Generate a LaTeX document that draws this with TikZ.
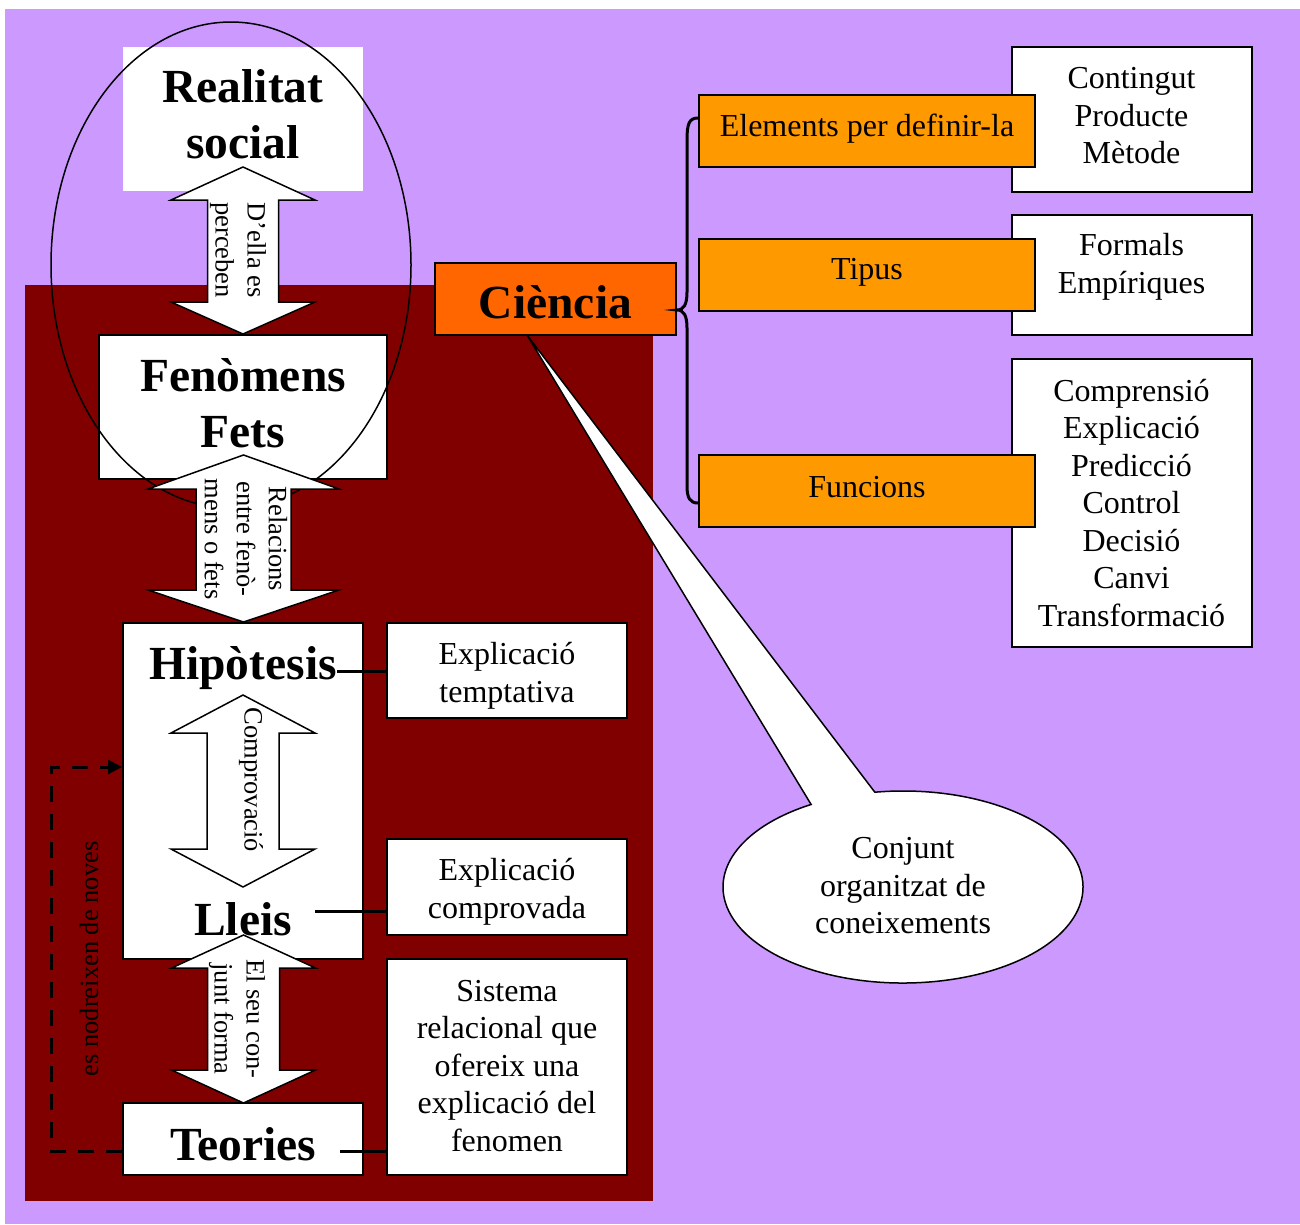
\documentclass[tikz,border=0pt]{standalone}
\usepackage{fontspec}
\setmainfont{Liberation Serif}
\usetikzlibrary{arrows.meta,calc}
\definecolor{lilac}{HTML}{CC99FF}
\definecolor{maroon}{HTML}{800000}
\definecolor{amber}{HTML}{FF9900}
\definecolor{tangerine}{HTML}{FF6600}

% vertical double-headed block arrow:
% centre x, top tip, top head base, bottom head base, bottom tip, head half width, shaft half width
\newcommand\blockdarrow[7]{%
  \draw[arrowbody] (#1,#2) -- (#1+#6,#3) -- (#1+#7,#3) -- (#1+#7,#4) -- (#1+#6,#4)
    -- (#1,#5) -- (#1-#6,#4) -- (#1-#7,#4) -- (#1-#7,#3) -- (#1-#6,#3) -- cycle;}

\tikzset{
  box/.style={draw=black, line width=2pt, fill=white, inner sep=0pt},
  body/.style={font=\fontsize{32}{37.5}\selectfont, align=center, inner sep=0pt},
  title/.style={font=\fontsize{47.5}{56}\selectfont\bfseries, align=center, inner sep=0pt},
  small/.style={font=\fontsize{26.5}{32}\selectfont, align=center, inner sep=0pt},
  arrowbody/.style={draw=black, line width=1.5pt, fill=white, line join=miter},
  conn/.style={line width=3pt},
  feedback/.style={line width=3pt, dash pattern=on 16pt off 12pt,
    -{Triangle[length=14pt,width=14pt]}},
  bracepath/.style={line width=3pt, line cap=round},
}

\begin{document}
\begin{tikzpicture}[x=1pt,y=-1pt]
\useasboundingbox (0,0) rectangle (1300,1224);
\fill[white] (0,0) rectangle (1300,1224);
\fill[lilac] (5,9) rectangle (1300,1224);
\fill[maroon] (25,285) rectangle (653,1201);

% speech bubble hanging from "Ciència"
\coordinate (ctip) at (527,335);
\filldraw[fill=white, draw=black, line width=1.5pt, line join=miter]
  (903,887) ++(261:180 and 96)
  arc[start angle=261, end angle=599.3, x radius=180, y radius=96]
  -- (ctip) -- cycle;
\node[body] (conjunt) at (903,886) {Conjunt\\organitzat de\\coneixements};

% left column
\node[box, draw=none, minimum width=240pt, minimum height=144pt] (realitat) at (243,119) {};
\node[title] (realitattxt) at (243,114) {Realitat\\social};
\blockdarrow{243}{167}{200}{302}{334}{72}{35.5}
\node[small, rotate=-90] (della) at (238,250) {D’ella es\\perceben};

\node[box, minimum width=288pt, minimum height=144pt] (fenomens) at (243,407) {};
\node[title] (fenomenstxt) at (243,403) {Fenòmens\\Fets};
\draw[line width=1.5pt] (231,265) ellipse[x radius=180, y radius=243];

\blockdarrow{243.5}{455}{489}{590}{622}{95.5}{47.5}
\node[small, rotate=-90] (relacions) at (246,539) {Relacions\\entre fenò-\\mens o fets};

\node[box, minimum width=240pt, minimum height=336pt] (hl) at (243,791) {};
\node[title] (hiptxt) at (243,668) {Hipòtesis};
\node[title] (lleistxt) at (243,919) {Lleis};
\blockdarrow{243}{695}{733}{849}{887}{72}{36}
\node[small, rotate=-90] (comprovacio) at (251,780) {Comprovació};

\blockdarrow{243.5}{935}{968}{1070}{1103}{72}{36}
\node[small, rotate=-90] (conjforma) at (237,1019) {El seu con-\\junt forma};

\node[box, minimum width=240pt, minimum height=72pt] (teories) at (243,1139) {};
\node[title] (teoriestxt) at (243,1144) {Teories};

\node[box, minimum width=240pt, minimum height=95pt] (expl1) at (507,670.5) {};
\node[body] (expl1txt) at (507,676) {Explicació\\temptativa};
\node[box, minimum width=240pt, minimum height=96pt] (expl2) at (507,887) {};
\node[body] (expl2txt) at (507,892) {Explicació\\comprovada};
\node[box, minimum width=240pt, minimum height=216pt] (sistema) at (507,1067) {};
\node[body] (sistematxt) at (507,1066)
  {Sistema\\relacional que\\ofereix una\\explicació del\\fenomen};

\coordinate (hipend) at (337,671);
\coordinate (lleisend) at (315,911);
\coordinate (teoend) at (340,1151);
\draw[conn] (hipend) -- (hipend -| expl1.west);
\draw[conn] (lleisend) -- (lleisend -| expl2.west);
\draw[conn] (teoend) -- (teoend -| sistema.west);

% feedback loop from the theories back to the hypotheses
\coordinate (fbcorner) at (51,767);
\draw[feedback] (teoend -| teories.west) -| (fbcorner) -- (fbcorner -| hl.west);
\node[small, rotate=90] (nodreixen) at (89,959) {es nodreixen de noves};

% right part
\node[box, minimum width=240pt, minimum height=145pt] (contA) at (1131.5,119.5) {};
\node[body] (contAtxt) at (1131.5,116) {Contingut\\Producte\\Mètode};
\node[box, minimum width=240pt, minimum height=120pt] (contB) at (1131.5,275) {};
\node[body] (contBtxt) at (1131.5,267) {Formals\\Empíriques};
\node[box, minimum width=240pt, minimum height=288pt] (contC) at (1131.5,503) {};
\node[body] (contCtxt) at (1131.5,503)
  {Comprensió\\Explicació\\Predicció\\Control\\Decisió\\Canvi\\Transformació};

\node[box, fill=amber, minimum width=336pt, minimum height=72pt] (elements) at (867,131) {};
\node[body] (elementstxt) at (867,129) {Elements per definir-la};
\node[box, fill=amber, minimum width=336pt, minimum height=72pt] (tipus) at (867,275) {};
\node[body] (tipustxt) at (867,272) {Tipus};
\node[box, fill=amber, minimum width=336pt, minimum height=72pt] (funcions) at (867,491) {};
\node[body] (funcionstxt) at (867,487) {Funcions};

\node[box, fill=tangerine, minimum width=241pt, minimum height=72pt] (ciencia) at (555.5,299) {};
\node[title] (cienciatxt) at (555.5,302) {Ciència};

% curly brace grouping the three aspects
\draw[bracepath] (elements.west |- 0,118) .. controls (689,118) and (687,124) .. (687,140)
  -- (687,292) .. controls (687,304) and (684,310) .. (ciencia.east |- 0,310)
  .. controls (684,310) and (687,316) .. (687,328)
  -- (687,486) .. controls (687,498) and (690,503) .. (funcions.west |- 0,503);
\end{tikzpicture}
\end{document}
